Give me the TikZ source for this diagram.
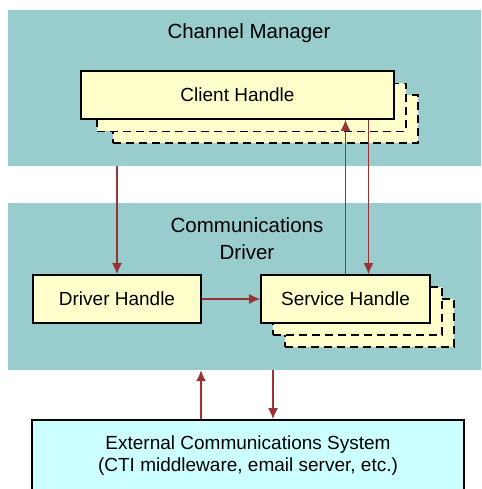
\documentclass[tikz,border=0pt]{standalone}
\usepackage{fontspec}
\setmainfont{Liberation Sans}
\usetikzlibrary{positioning,calc,arrows.meta}
\definecolor{bandcol}{HTML}{99CCCC}
\definecolor{handlecol}{HTML}{FFFFCC}
\definecolor{extcol}{HTML}{CCFFFF}
\definecolor{arrcol}{HTML}{993333}
\tikzstyle{band}= [rectangle, fill=bandcol, draw=none, inner sep=0pt]
\tikzstyle{ttl}= [inner sep=0pt, align=center, font=\fontsize{20.5}{24}\selectfont]
\tikzstyle{hnd}= [rectangle, draw, fill=handlecol, line width=1.6pt, minimum height=48pt, inner sep=0pt, align=center, font=\fontsize{19}{22}\selectfont]
\tikzstyle{cpy}= [rectangle, draw, fill=handlecol, line width=1.6pt, dash pattern=on 8pt off 5pt, minimum height=48pt, inner sep=0pt]
\tikzstyle{arr}= [color=arrcol, line width=1.6pt, -{Latex[length=11pt,width=10pt]}]

\begin{document}
\begin{tikzpicture}[x=1pt,y=-1pt]
				\useasboundingbox (0,0) rectangle (481,489);
				\clip (0,0) rectangle (481,489);

				\node[band, minimum width=480pt, minimum height=156pt] (cm) at (248,88) {};
				\node[band, minimum width=480pt, minimum height=167pt] (cd) at (248,286.5) {};
				\node[ttl] (cmt) at (249,33) {Channel Manager};
				\node[ttl] (cdt) at (247,238.5) {Communications\\[3pt]Driver};

				\node[cpy, minimum width=305pt] (ch3) at (265.5,119) {};
				\node[cpy, minimum width=309pt] (ch2) at (251.5,107.5) {};
				\node[hnd, minimum width=313pt] (ch) at (237.5,95) {Client Handle};

				\node[hnd, minimum width=168pt] (dh) at (117,299) {Driver Handle};
				\node[cpy, minimum width=169pt] (sh3) at (369.5,323) {};
				\node[cpy, minimum width=169pt] (sh2) at (357.5,311) {};
				\node[hnd, minimum width=169pt] (sh) at (345.5,299) {Service Handle};

				\node[hnd, fill=extcol, minimum width=432pt, minimum height=71pt] (ext) at (248,455.5) {External Communications System\\(CTI middleware, email server, etc.)};

				\coordinate (shin) at ($(sh.north)+(23,0)$);
				\coordinate (extout) at ($(ext.north)+(-47,0)$);
				\coordinate (extin) at ($(ext.north)+(25,0)$);

				\draw[arr] (dh.north |- cm.south) -- (dh.north);
				\draw[arr] (sh.north) -- (sh.north |- ch.south);
				\draw[arr] (shin |- ch.south) -- (shin);
				\draw[arr] (dh) -- (sh);
				\draw[arr] (extout) -- (extout |- cd.south);
				\draw[arr] (extin |- cd.south) -- (extin);
			\end{tikzpicture}
\end{document}
